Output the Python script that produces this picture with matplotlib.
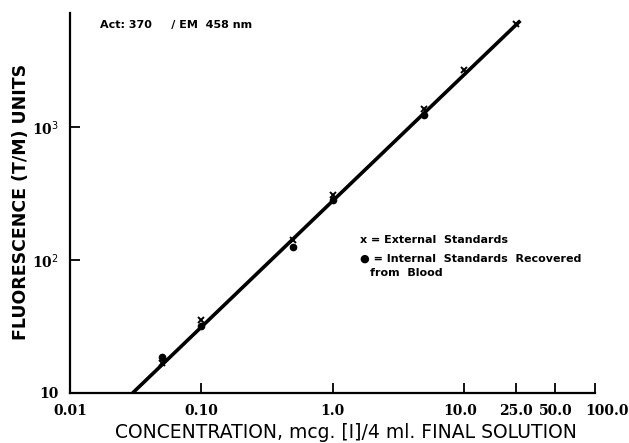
import matplotlib
matplotlib.use("Agg")
import matplotlib.pyplot as plt
import matplotlib.transforms as mtransforms
from matplotlib.ticker import FixedLocator, FixedFormatter, NullLocator

# ---- data ----
ext_conc = [0.05, 0.10, 0.50, 1.0, 5.0, 10.0, 25.0]
ext_fluor = [16.8, 35.4, 141, 308, 1365, 2690, 5940]
int_conc = [0.05, 0.10, 0.50, 1.0, 5.0]
int_fluor = [18.6, 31.9, 125, 283, 1230]
fit_conc = [0.03, 27.0]
fit_fluor = [10.0, 6300.0]

x_ticks = [0.01, 0.1, 1.0, 10.0, 25.0, 50.0, 100.0]
x_ticklabels = ["0.01", "0.10", "1.0", "10.0", "25.0", "50.0", "100.0"]
y_ticks = [10, 100, 1000]
y_ticklabels = ["10", r"10$^{2}$", r"10$^{3}$"]

fig = plt.figure(figsize=(6.29, 4.43), dpi=100)
ax = fig.add_axes([70/629, 50/443, 525/629, 380/443])

ax.plot(fit_conc, fit_fluor, color="black", lw=2.6, solid_capstyle="butt", zorder=2)
ax.plot(ext_conc, ext_fluor, linestyle="none", marker="x", color="black",
        markersize=5, mew=1.4, zorder=3)
ax.plot(int_conc, int_fluor, linestyle="none", marker="o", color="black",
        markersize=4.5, zorder=3)

ax.set_xscale("log")
ax.set_yscale("log")
ax.set_xlim(0.01, 100)
ax.set_ylim(10, 7200)

ax.xaxis.set_major_locator(FixedLocator(x_ticks))
ax.xaxis.set_major_formatter(FixedFormatter(x_ticklabels))
ax.xaxis.set_minor_locator(NullLocator())
ax.yaxis.set_major_locator(FixedLocator(y_ticks))
ax.yaxis.set_major_formatter(FixedFormatter(y_ticklabels))
ax.yaxis.set_minor_locator(NullLocator())

for s in ["top", "right"]:
    ax.spines[s].set_visible(False)
for s in ["left", "bottom"]:
    ax.spines[s].set_linewidth(1.6)

ax.tick_params(axis="both", direction="in", length=7, width=1.3, pad=8)
for lab in ax.get_xticklabels() + ax.get_yticklabels():
    lab.set_fontfamily("DejaVu Serif")
    lab.set_fontweight("bold")
    lab.set_fontsize(10)

# nudge some x labels, as in the reference
xlabs = ax.get_xticklabels()
xlabs[-1].set_transform(xlabs[-1].get_transform() +
                        mtransforms.ScaledTranslation(12/100, 0, fig.dpi_scale_trans))
xlabs[3].set_transform(xlabs[3].get_transform() +
                       mtransforms.ScaledTranslation(-4/100, 0, fig.dpi_scale_trans))

ax.set_xlabel("CONCENTRATION, mcg. [I]/4 ml. FINAL SOLUTION",
              fontsize=13.5, family="DejaVu Sans", va="center")
ax.xaxis.set_label_coords(0.526, -0.105)
ax.set_ylabel("FLUORESCENCE (T/M) UNITS", fontsize=12.5, fontweight="bold",
              family="DejaVu Sans", va="center")
ax.yaxis.set_label_coords(-0.093, 0.503)

ax.text(0.057, 0.968, "Act: 370     / EM  458 nm", transform=ax.transAxes,
        fontsize=8, fontweight="bold", family="DejaVu Sans", va="center")
ax.text(0.552, 0.403, "x = External  Standards", transform=ax.transAxes,
        fontsize=8, fontweight="bold", family="DejaVu Sans", va="center")
ax.text(0.552, 0.353, "\u25cf = Internal  Standards  Recovered", transform=ax.transAxes,
        fontsize=8, fontweight="bold", family="DejaVu Sans", va="center")
ax.text(0.571, 0.316, "from  Blood", transform=ax.transAxes,
        fontsize=8, fontweight="bold", family="DejaVu Sans", va="center")

fig.savefig("out.png", dpi=100)
